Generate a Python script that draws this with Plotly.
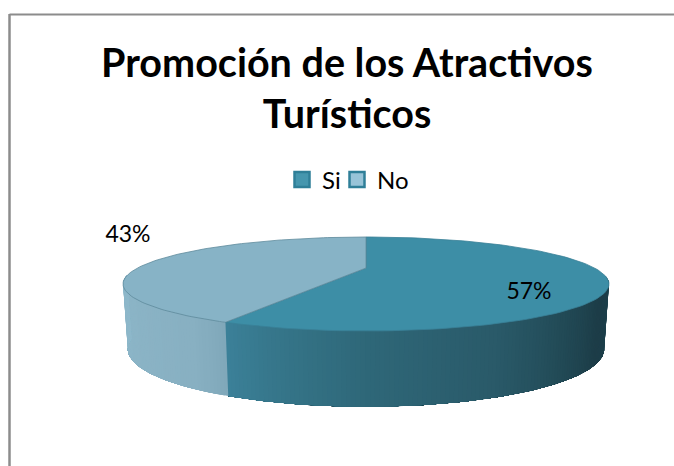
import numpy as np
import plotly.graph_objects as go

TITLE = "Promoción de los Atractivos<br>Turísticos"
categories = ["Si", "No"]
shares = [57, 43]
top_colors = ["#3D8EA6", "#87B3C6"]
swatch_colors = ["#4596AE", "#98C4D8"]
swatch_edges = ["#2F7F98", "#2F7F98"]
rim_colors = ["#3A8097", "#5E8A9C"]
label_xy = [(529, 293), (128, 236)]
FONT = "Lato"

# projected-circle geometry of the 3D pie
CX, K = 366, 0.34
TOP = dict(cy=268.0, a=228.5, b=41.55)
BOT = dict(cy=329.4, a=224.0, b=51.0)

# wall shading: (theta in degrees clockwise from 12 o'clock, colour)
wall_stops = [
    (100, (31, 68, 80)), (125, (29, 61, 72)), (140, (34, 74, 86)),
    (157, (42, 90, 105)), (180, (47, 104, 121)), (195, (54, 118, 138)),
    (205.2, (60, 129, 153)), (205.21, (128, 168, 186)), (212, (136, 176, 194)),
    (260, (143, 185, 203)),
]


def project(theta_deg, g):
    t = np.radians(theta_deg)
    u, v = np.sin(t), np.cos(t)
    d = 1 + K * v
    return CX + g["a"] * u / d, g["cy"] - g["b"] * v / d


def wall_color(theta):
    ths = [s[0] for s in wall_stops]
    rgb = [np.interp(theta, ths, [s[1][i] for s in wall_stops]) for i in range(3)]
    return "rgb(%d,%d,%d)" % tuple(rgb)


fig = go.Figure()

# side wall: overlapping strips painted so that no seams show
angles = np.cumsum([0] + [s / sum(shares) * 360 for s in shares])
split = angles[1]
for lo, hi, n in [(100.0, split, 130), (split, 260.0, 70)]:
    edges = np.linspace(lo, hi, n + 1)
    for j in range(n):
        t0, t1 = edges[j], hi
        ts = np.linspace(t0, t1, max(3, n - j + 2))
        xt, yt = project(ts, TOP)
        xb, yb = project(ts[::-1], BOT)
        fig.add_trace(go.Scatter(
            x=np.concatenate([xt, xb, xt[:1]]), y=np.concatenate([yt, yb, yt[:1]]),
            mode="lines", fill="toself", fillcolor=wall_color(edges[j] + (hi - lo) / n / 2),
            line=dict(width=0), hoverinfo="skip", showlegend=False))

# top face wedges
for i, name in enumerate(categories):
    ts = np.linspace(angles[i], angles[i + 1], 120)
    xs, ys = project(ts, TOP)
    fig.add_trace(go.Scatter(
        x=np.concatenate([[CX], xs, [CX]]), y=np.concatenate([[TOP["cy"]], ys, [TOP["cy"]]]),
        mode="lines", fill="toself", fillcolor=top_colors[i],
        line=dict(color=rim_colors[i], width=0.8),
        name=name, hoverinfo="skip", showlegend=False))

# legend entries (one legend per entry so each can be placed on its own)
for i, name in enumerate(categories):
    fig.add_trace(go.Scatter(
        x=[None], y=[None], mode="markers", name=name,
        legend="legend" if i == 0 else "legend2",
        marker=dict(symbol="square", size=15, color=swatch_colors[i],
                    line=dict(color=swatch_edges[i], width=2.5))))

# percent labels
fig.add_trace(go.Scatter(
    x=[p[0] for p in label_xy], y=[p[1] for p in label_xy],
    text=["%d%%" % s for s in shares], mode="text",
    textfont=dict(family=FONT, size=23, color="#000000"),
    hoverinfo="skip", showlegend=False))

legend_base = dict(orientation="h", y=1 - 180 / 466, xanchor="left", yanchor="middle",
                   font=dict(family=FONT, size=24, color="#000000"), itemwidth=30,
                   bgcolor="rgba(0,0,0,0)", itemclick=False, itemdoubleclick=False)

fig.update_layout(
    width=674, height=466, autosize=False,
    margin=dict(l=0, r=0, t=0, b=0),
    paper_bgcolor="#FFFFFF", plot_bgcolor="rgba(0,0,0,0)",
    font=dict(family=FONT, color="#000000"),
    title=dict(text="<b>%s</b>" % TITLE, x=347 / 674, xanchor="center",
               y=1 - 76.5 / 466, yanchor="middle",
               font=dict(family=FONT, size=39.5, color="#000000")),
    xaxis=dict(range=[0, 674], visible=False, domain=[0, 1], fixedrange=True),
    yaxis=dict(range=[466, 0], visible=False, domain=[0, 1], fixedrange=True),
    legend=dict(legend_base, x=282 / 674),
    legend2=dict(legend_base, x=337 / 674),
    shapes=[dict(type="line", xref="x", yref="y", x0=9.5, y0=14.5, x1=674, y1=14.5,
                 line=dict(color="#8C8C8C", width=2), layer="below"),
            dict(type="line", xref="x", yref="y", x0=9.5, y0=14, x1=9.5, y1=466,
                 line=dict(color="#8C8C8C", width=2.5), layer="below")],
)
fig.write_html("out.html", config={"displayModeBar": False},
               post_script="document.body.style.margin='0';document.body.style.overflow='hidden';")
